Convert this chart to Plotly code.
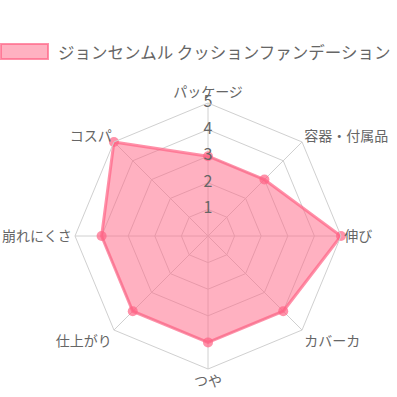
import plotly.graph_objects as go

categories = ["パッケージ", "容器・付属品", "伸び", "カバーカ", "つや", "仕上がり", "崩れにくさ", "コスパ"]
values = [3, 3, 5, 4, 4, 4, 4, 5]
series_name = "ジョンセンムル クッションファンデーション"
tick_values = [1, 2, 3, 4, 5]
tick_labels = ["1", "2", "3", "4", "5"]

FONT = "Noto Sans CJK JP, Noto Sans, sans-serif"
LINE = "rgba(255,99,132,0.7)"
FILL = "rgba(255,99,132,0.5)"

W = H = 397
M = dict(l=75, r=56, t=103, b=28)
PW = W - M["l"] - M["r"]
PH = H - M["t"] - M["b"]


def px_x(x):
    return (x - M["l"]) / PW


def px_y(y):
    return (H - M["b"] - y) / PH


fig = go.Figure()
fig.add_trace(go.Scatterpolar(
    r=values + values[:1],
    theta=categories + categories[:1],
    name=series_name,
    mode="lines",
    fill="toself",
    fillcolor=FILL,
    line=dict(color=LINE, width=3),
    showlegend=False,
))
fig.add_trace(go.Scatterpolar(
    r=values,
    theta=categories,
    mode="markers",
    marker=dict(color=LINE, size=10),
    showlegend=False,
))
fig.add_trace(go.Scatterpolar(
    r=tick_values,
    theta=[categories[0]] * len(tick_values),
    mode="text",
    text=tick_labels,
    textfont=dict(family=FONT, size=16, color="#666666"),
    textposition="middle center",
    showlegend=False,
    hoverinfo="skip",
))

# legend (manual, box swatch like the reference)
fig.add_shape(
    type="rect", xref="paper", yref="paper",
    x0=px_x(1), x1=px_x(48), y0=px_y(59), y1=px_y(44),
    fillcolor=FILL, line=dict(color=LINE, width=2),
)
fig.add_annotation(
    xref="paper", yref="paper",
    x=px_x(56), y=px_y(51.5), xanchor="left", yanchor="middle",
    text=series_name, showarrow=False,
    font=dict(family=FONT, size=16.5, color="#666666"),
)

fig.update_layout(
    width=W, height=H,
    paper_bgcolor="white",
    plot_bgcolor="white",
    margin=M,
    font=dict(family=FONT, color="#666666"),
    showlegend=False,
    polar=dict(
        bgcolor="white",
        gridshape="linear",
        radialaxis=dict(
            range=[0, 5],
            tickvals=tick_values,
            showticklabels=False,
            ticks="",
            showline=False,
            gridcolor="#d0d0d0",
            gridwidth=1,
        ),
        angularaxis=dict(
            rotation=90,
            direction="clockwise",
            tickfont=dict(family=FONT, size=14, color="#666666"),
            ticks="",
            showline=True,
            linecolor="#d0d0d0",
            gridcolor="#d0d0d0",
            gridwidth=1,
        ),
    ),
)

fig.write_html(
    "out.html",
    config={"displayModeBar": False},
    post_script="document.body.style.margin='0px';document.body.style.overflow='hidden';",
)
